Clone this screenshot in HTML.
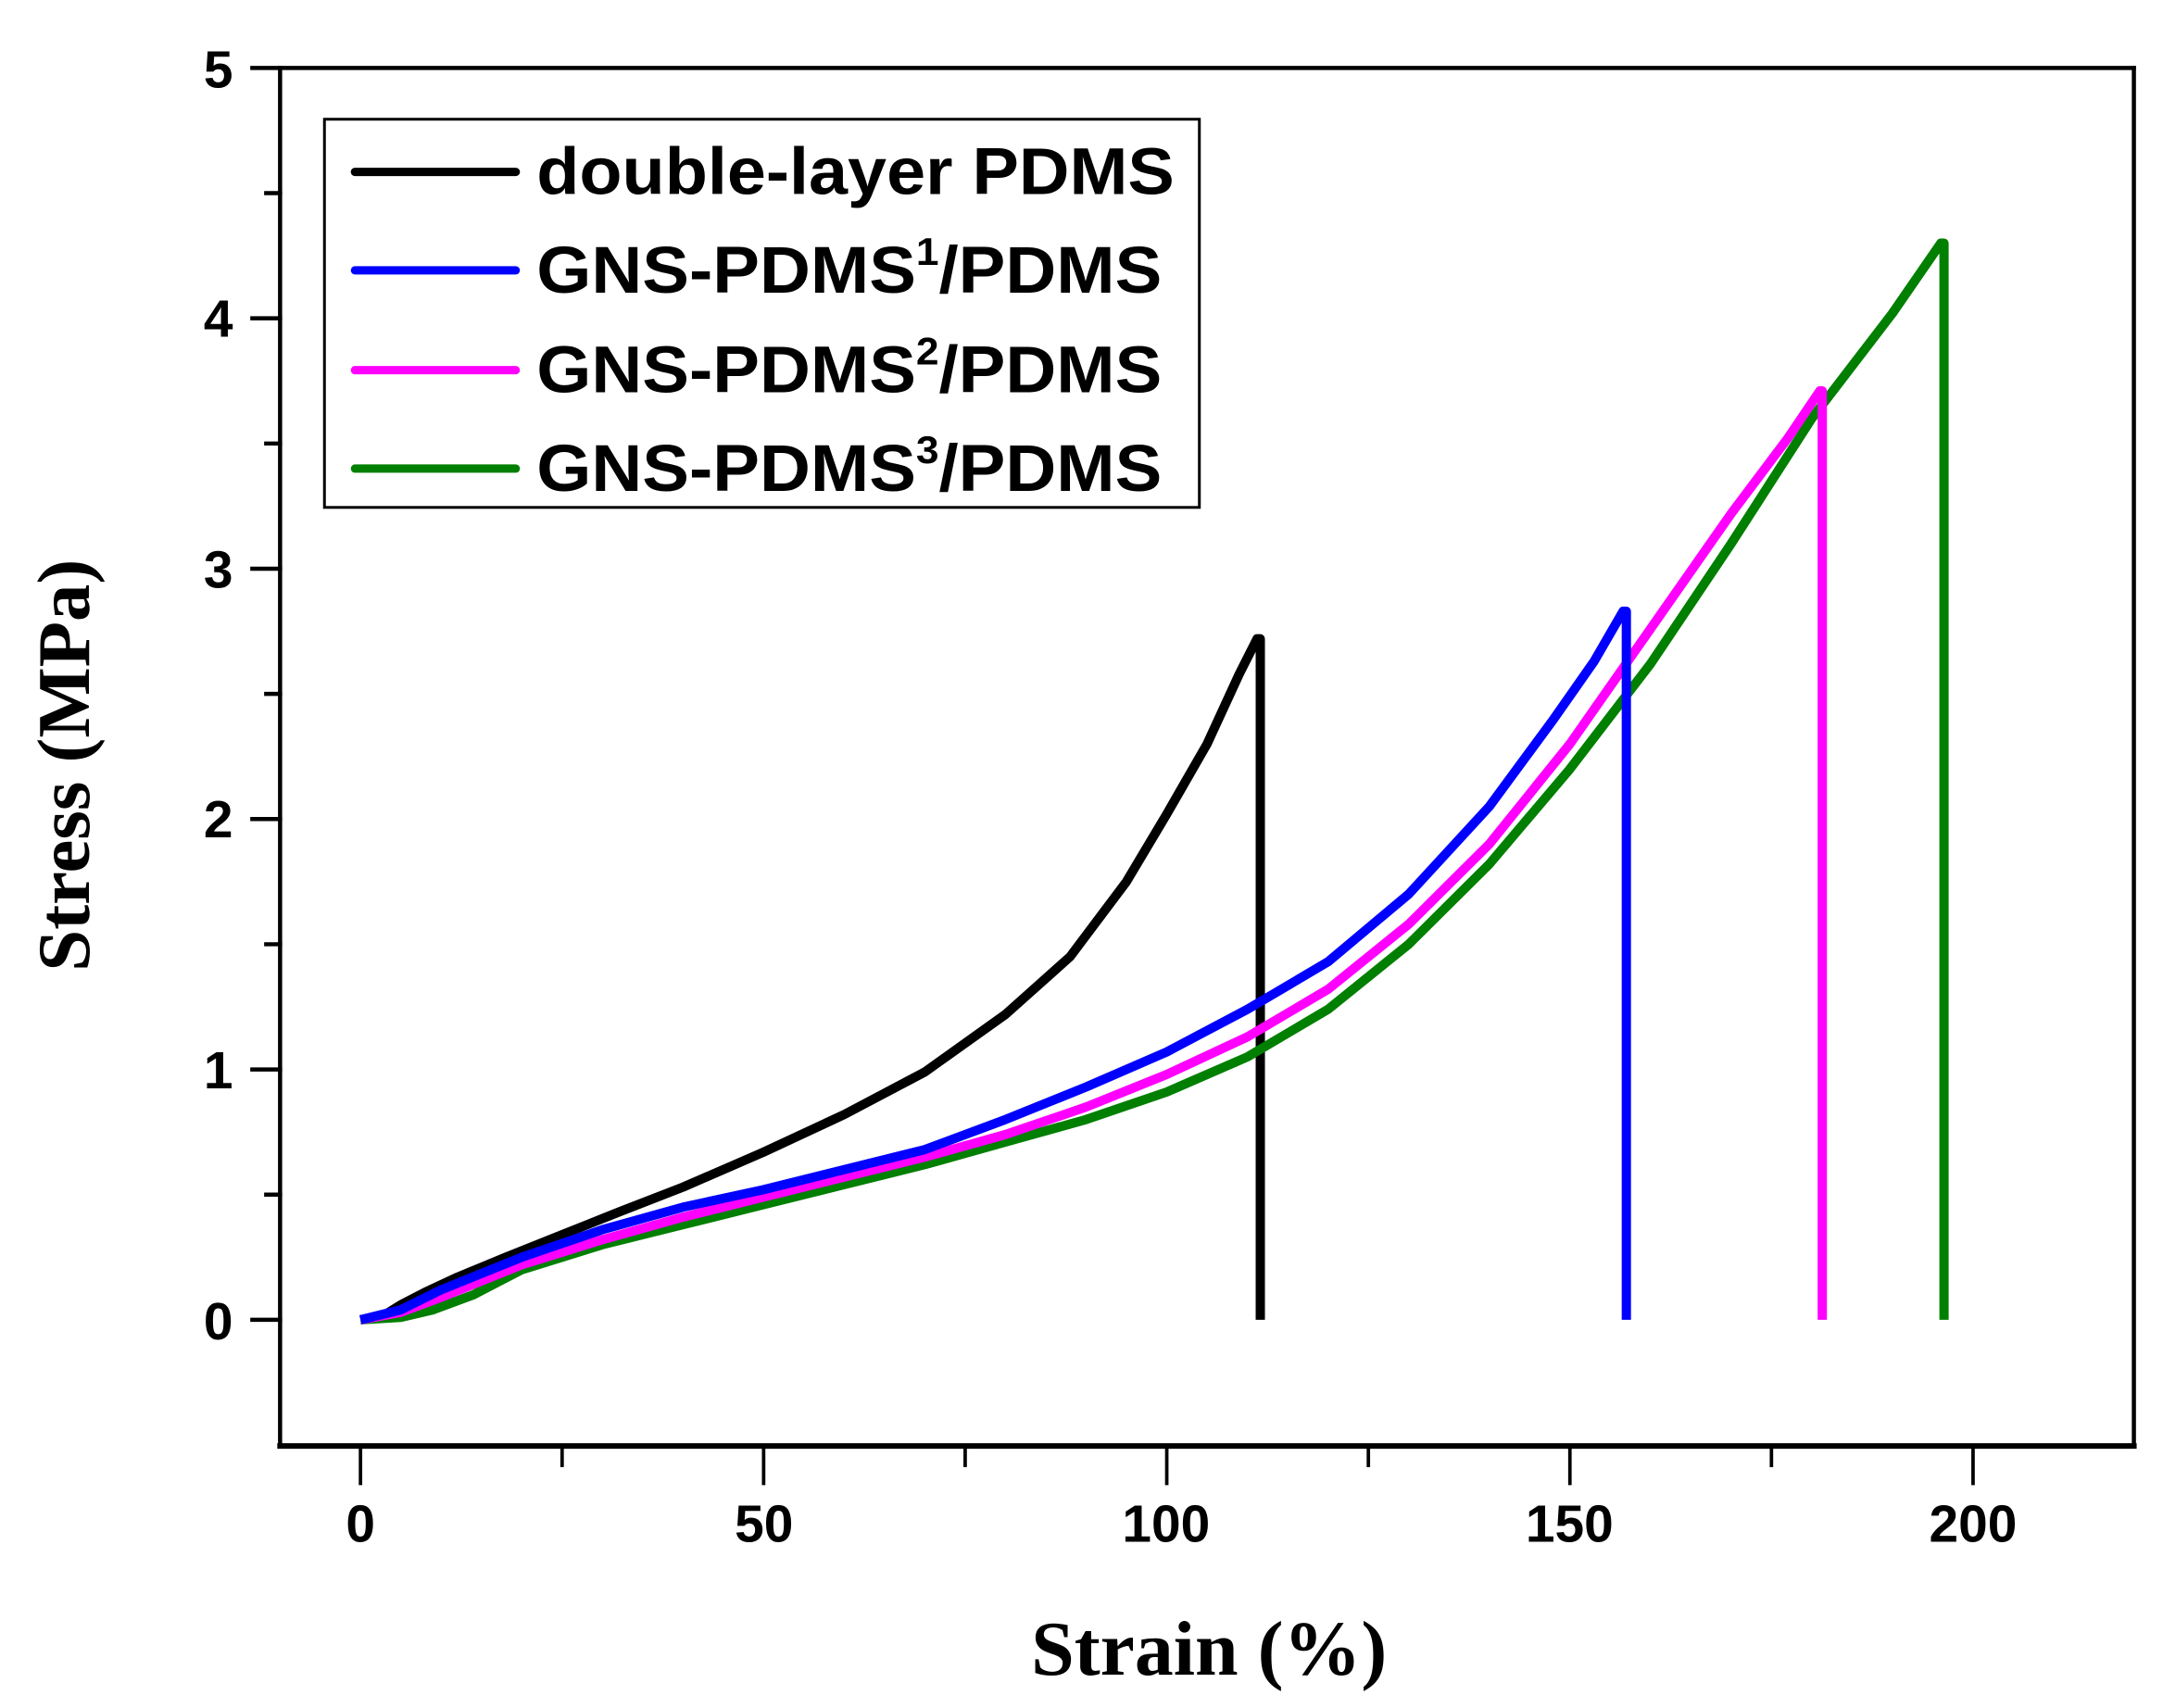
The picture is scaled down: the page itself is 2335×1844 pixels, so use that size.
<!DOCTYPE html>
<html><head><meta charset="utf-8"><style>html,body{margin:0;padding:0;background:#fff}svg{display:block}</style></head>
<body>
<svg width="2335" height="1844" viewBox="0 0 1560 1232" preserveAspectRatio="none" xmlns="http://www.w3.org/2000/svg">
<rect width="1560" height="1232" fill="#fff"/>
<g stroke="#000" fill="none" stroke-linecap="square">
<line x1="202" y1="49" x2="1539" y2="49" stroke-width="3"/>
<line x1="202" y1="1043" x2="1539" y2="1043" stroke-width="4"/>
<line x1="202" y1="49" x2="202" y2="1043" stroke-width="3"/>
<line x1="1539" y1="49" x2="1539" y2="1043" stroke-width="3"/>
<g stroke-width="3">
<line x1="182" y1="49" x2="202" y2="49"/>
<line x1="182" y1="229.6" x2="202" y2="229.6"/>
<line x1="182" y1="410.2" x2="202" y2="410.2"/>
<line x1="182" y1="590.8" x2="202" y2="590.8"/>
<line x1="182" y1="771.4" x2="202" y2="771.4"/>
<line x1="182" y1="952" x2="202" y2="952"/>
<line x1="192" y1="139.3" x2="202" y2="139.3"/>
<line x1="192" y1="319.9" x2="202" y2="319.9"/>
<line x1="192" y1="500.5" x2="202" y2="500.5"/>
<line x1="192" y1="681.1" x2="202" y2="681.1"/>
<line x1="192" y1="861.7" x2="202" y2="861.7"/>
</g>
<g stroke-width="2.5">
<line x1="260" y1="1043" x2="260" y2="1070"/>
<line x1="550.75" y1="1043" x2="550.75" y2="1070"/>
<line x1="841.5" y1="1043" x2="841.5" y2="1070"/>
<line x1="1132.25" y1="1043" x2="1132.25" y2="1070"/>
<line x1="1423" y1="1043" x2="1423" y2="1070"/>
<line x1="405.4" y1="1043" x2="405.4" y2="1057"/>
<line x1="696.1" y1="1043" x2="696.1" y2="1057"/>
<line x1="986.9" y1="1043" x2="986.9" y2="1057"/>
<line x1="1277.6" y1="1043" x2="1277.6" y2="1057"/>
</g>
</g>
<g font-family="Liberation Sans, Arial, sans-serif" font-weight="bold" font-size="38" fill="#000">
<g text-anchor="end">
<text x="168" y="63">5</text>
<text x="168" y="243">4</text>
<text x="168" y="424">3</text>
<text x="168" y="604">2</text>
<text x="168" y="785">1</text>
<text x="168" y="966">0</text>
</g>
<g text-anchor="middle">
<text x="260" y="1112">0</text>
<text x="551" y="1112">50</text>
<text x="841" y="1112">100</text>
<text x="1132" y="1112">150</text>
<text x="1423" y="1112">200</text>
</g>
</g>
<text x="872" y="1208" text-anchor="middle" font-family="Liberation Serif, Times New Roman, serif" font-weight="bold" font-size="56">Strain (%)</text>
<text transform="translate(64,552) rotate(-90)" text-anchor="middle" font-family="Liberation Serif, Times New Roman, serif" font-weight="bold" font-size="54">Stress (MPa)</text>
<rect x="234" y="86" width="631" height="280" fill="#fff" stroke="#000" stroke-width="2"/>
<g stroke-width="6" stroke-linecap="round">
<line x1="256" y1="124" x2="372" y2="124" stroke="#000"/>
<line x1="256" y1="195" x2="372" y2="195" stroke="#0000ff"/>
<line x1="256" y1="267" x2="372" y2="267" stroke="#ff00ff"/>
<line x1="256" y1="338" x2="372" y2="338" stroke="#007f00"/>
</g>
<g font-family="Liberation Sans, Arial, sans-serif" font-weight="bold" font-size="48" fill="#000">
<text x="387" y="140" textLength="460" lengthAdjust="spacingAndGlyphs">double-layer PDMS</text>
<text x="387" y="211" textLength="451" lengthAdjust="spacingAndGlyphs">GNS-PDMS<tspan font-size="28" dy="-20">1</tspan><tspan dy="20">/PDMS</tspan></text>
<text x="387" y="283" textLength="451" lengthAdjust="spacingAndGlyphs">GNS-PDMS<tspan font-size="28" dy="-20">2</tspan><tspan dy="20">/PDMS</tspan></text>
<text x="387" y="354" textLength="451" lengthAdjust="spacingAndGlyphs">GNS-PDMS<tspan font-size="28" dy="-20">3</tspan><tspan dy="20">/PDMS</tspan></text>
</g>
<g transform="matrix(5.815 0 0 -180.6 260 952)" fill="none" stroke-linejoin="round">
<polyline vector-effect="non-scaling-stroke" stroke-width="10" stroke="#000" points="0,0 3,0.02 5,0.06 8,0.11 12,0.17 18,0.25 25,0.34 32,0.43 40,0.53 50,0.67 60,0.82 70,0.99 80,1.22 88,1.45 95,1.75 100,2.02 105,2.3 109,2.58 111.2,2.72 111.6,2.72 111.6,0"/>
<polyline vector-effect="non-scaling-stroke" stroke-width="10" stroke="#007f00" points="0,0 5,0.01 9,0.04 14,0.1 20,0.2 30,0.3 40,0.38 50,0.46 60,0.54 70,0.62 80,0.71 90,0.8 100,0.91 110,1.05 120,1.24 130,1.5 140,1.82 150,2.2 160,2.62 170,3.1 180,3.6 190,4.02 196,4.3 196.4,4.3 196.4,0"/>
<polyline vector-effect="non-scaling-stroke" stroke-width="10" stroke="#ff00ff" points="0,0 5,0.03 10,0.09 20,0.22 30,0.32 40,0.41 50,0.49 60,0.57 70,0.65 80,0.74 90,0.85 100,0.98 110,1.13 120,1.32 130,1.58 140,1.9 150,2.3 160,2.76 170,3.22 177,3.52 181,3.71 181.3,3.71 181.3,0"/>
<polyline vector-effect="non-scaling-stroke" stroke-width="10" stroke="#0000ff" points="0,0 5,0.04 10,0.12 20,0.25 30,0.36 40,0.45 50,0.52 60,0.6 70,0.68 80,0.8 90,0.93 100,1.07 110,1.24 120,1.43 130,1.7 140,2.05 148,2.4 153,2.63 156.6,2.83 157,2.83 157,0"/>
</g>
</svg>
</body></html>
